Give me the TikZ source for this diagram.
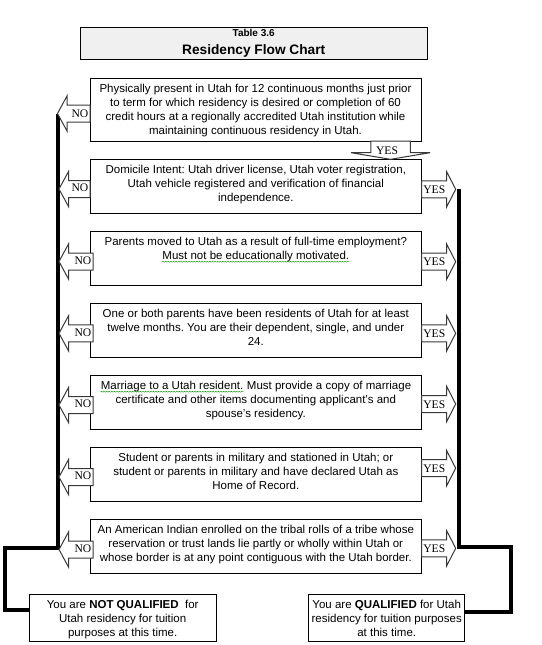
\documentclass[tikz,border=0pt]{standalone}
\usepackage{fontspec}
\setmainfont{Liberation Sans}
\newfontfamily\yesnofont{Liberation Serif}
\usepackage{tikz}
\usetikzlibrary{positioning,calc,decorations.pathmorphing}
\frenchspacing

% wavy proofing mark under a phrase
\newcommand{\squig}[1]{\tikz[baseline=(sq.base)]{\node[inner sep=0pt, anchor=base] (sq) {#1}; \draw[green!55!black, line width=0.4pt, decorate, decoration={snake, amplitude=0.5pt, segment length=2.6pt}] ([yshift=-2.3pt]sq.base west) -- ([yshift=-2.3pt]sq.base east);}}

\begin{document}
\begin{tikzpicture}[x=1pt, y=-1pt,
    titlebox/.style={rectangle, draw=black, line width=0.9pt, fill=gray!12, minimum width=347.7pt, minimum height=32pt, inner sep=0pt},
    box/.style={rectangle, draw=black, line width=0.8pt, fill=white, minimum width=331.7pt, minimum height=54pt, inner sep=0pt},
    endbox/.style={rectangle, draw=black, line width=0.8pt, fill=white, minimum height=47.7pt, inner sep=0pt},
    boxtext/.style={align=center, inner sep=0pt, font=\fontsize{11.5}{14}\selectfont},
    blockarrow/.style={draw=gray!45!black, line width=1pt, fill=white, line join=miter},
    yesno/.style={inner sep=0pt, font=\yesnofont\fontsize{11.6}{12}\selectfont},
    trunk/.style={black, line width=4pt}]

\useasboundingbox (0,0) rectangle (541,645);

% Title
\node[titlebox] (title) at (253.8,43.3) {};
\node[anchor=base, font=\bfseries\fontsize{10}{12}\selectfont] (tabno) at (253.7,36.7) {Table 3.6};
\node[anchor=base, font=\bfseries\fontsize{13.7}{16}\selectfont] (tabname) at (253.7,54.7) {Residency Flow Chart};

% Arrow tips and trunk bends
\coordinate (no1) at (57.5,113.5);
\coordinate (no2) at (59,189);
\coordinate (no3) at (59,261.5);
\coordinate (no4) at (59,333.3);
\coordinate (no5) at (59,405);
\coordinate (no6) at (59,477);
\coordinate (no7) at (59,549.5);
\coordinate (yes2) at (455.7,189.3);
\coordinate (yes3) at (455.7,261.7);
\coordinate (yes4) at (455.7,333.3);
\coordinate (yes5) at (455.7,404);
\coordinate (yes6) at (455.7,468.2);
\coordinate (yes7) at (455.7,548.3);
\coordinate (down) at (390.5,159.3);
\coordinate (lfoot) at (4.7,548.3);
\coordinate (rtop) at (459,189.3);
\coordinate (rfoot) at (511,547.3);

% Outcome boxes
\node[endbox, minimum width=186.7pt] (nq) at (122.7,617.9) {};
\node[endbox, minimum width=156pt] (q) at (386.7,617.9) {};
\node[boxtext, below=6.5pt of nq.north] (tnq) {You are \textbf{NOT QUALIFIED} ~for\\ Utah residency for tuition\\ purposes at this time.};
\node[boxtext, below=6.5pt of q.north] (tq) {You are \textbf{QUALIFIED} for Utah\\ residency for tuition purposes\\ at this time.};

% Trunk lines
\draw[trunk] (no1) -- (no1 |- lfoot) -- (lfoot) |- ($(nq.west)+(0,-8)$);
\draw[trunk] (rtop) -- (rtop |- rfoot) -- (rfoot) |- ($(q.east)+(0,-6)$);

% Criteria
\node[box, minimum height=62.7pt, minimum width=331pt] (b1) at (255.5,110) {};
\node[box] (b2) at (255.8,186.2) {};
\node[box] (b3) at (255.8,258.3) {};
\node[box] (b4) at (255.8,330.3) {};
\node[box] (b5) at (255.8,402.3) {};
\node[box] (b6) at (255.8,474.3) {};
\node[box] (b7) at (255.8,546.3) {};

\node[boxtext, below=6pt of b1.north] (t1) {Physically present in Utah for 12 continuous months just prior\\ to term for which residency is desired or completion of 60\\ credit hours at a regionally accredited Utah institution while\\ maintaining continuous residency in Utah.};
\node[boxtext, below=6pt of b2.north] (t2) {Domicile Intent: Utah driver license, Utah voter registration,\\ Utah vehicle registered and verification of financial\\ independence.};
\node[boxtext, below=6pt of b3.north] (t3) {Parents moved to Utah as a result of full-time employment?\\ \squig{Must not be educationally motivated.}};
\node[boxtext, below=6pt of b4.north] (t4) {One or both parents have been residents of Utah for at least\\ twelve months. You are their dependent, single, and under\\ 24.};
\node[boxtext, below=6pt of b5.north] (t5) {\squig{Marriage to a Utah resident.} Must provide a copy of marriage\\ certificate and other items documenting applicant’s and\\ spouse’s residency.};
\node[boxtext, below=6pt of b6.north] (t6) {Student or parents in military and stationed in Utah; or\\ student or parents in military and have declared Utah as\\ Home of Record.};
\node[boxtext, below=6pt of b7.north] (t7) {An American Indian enrolled on the tribal rolls of a tribe whose\\ reservation or trust lands lie partly or wholly within Utah or\\ whose border is at any point contiguous with the Utah border.};

% NO arrows
\draw[blockarrow] (no1) -- ++(9.5,-17.5) -- ++(0,9) -- ++(23,0) -- ++(0,17) -- ++(-23,0) -- ++(0,9) -- cycle;
\draw[blockarrow] (no2) -- ++(9.5,-17.5) -- ++(0,9) -- ++(21.5,0) -- ++(0,17) -- ++(-21.5,0) -- ++(0,9) -- cycle;
\draw[blockarrow] (no3) -- ++(9.5,-17.5) -- ++(0,9) -- ++(24.5,0) -- ++(0,17) -- ++(-24.5,0) -- ++(0,9) -- cycle;
\draw[blockarrow] (no4) -- ++(9.5,-17.5) -- ++(0,9) -- ++(24.5,0) -- ++(0,17) -- ++(-24.5,0) -- ++(0,9) -- cycle;
\draw[blockarrow] (no5) -- ++(9.5,-17.5) -- ++(0,9) -- ++(24.5,0) -- ++(0,17) -- ++(-24.5,0) -- ++(0,9) -- cycle;
\draw[blockarrow] (no6) -- ++(9.5,-17.5) -- ++(0,9) -- ++(24.5,0) -- ++(0,17) -- ++(-24.5,0) -- ++(0,9) -- cycle;
\draw[blockarrow] (no7) -- ++(9.5,-17.5) -- ++(0,9) -- ++(24.5,0) -- ++(0,17) -- ++(-24.5,0) -- ++(0,9) -- cycle;

% YES arrows
\draw[blockarrow] (down) -- ++(39.5,-6.6) -- ++(-19.75,0) -- ++(0,-11.7) -- ++(-39.5,0) -- ++(0,11.7) -- ++(-19.75,0) -- cycle;
\draw[blockarrow] (yes2) -- ++(-9,-17.5) -- ++(0,9) -- ++(-25,0) -- ++(0,17) -- ++(25,0) -- ++(0,9) -- cycle;
\draw[blockarrow] (yes3) -- ++(-9,-17.5) -- ++(0,9) -- ++(-25,0) -- ++(0,17) -- ++(25,0) -- ++(0,9) -- cycle;
\draw[blockarrow] (yes4) -- ++(-9,-17.5) -- ++(0,9) -- ++(-25,0) -- ++(0,17) -- ++(25,0) -- ++(0,9) -- cycle;
\draw[blockarrow] (yes5) -- ++(-9,-17.5) -- ++(0,9) -- ++(-25,0) -- ++(0,17) -- ++(25,0) -- ++(0,9) -- cycle;
\draw[blockarrow] (yes6) -- ++(-9,-17.5) -- ++(0,9) -- ++(-25,0) -- ++(0,17) -- ++(25,0) -- ++(0,9) -- cycle;
\draw[blockarrow] (yes7) -- ++(-9,-17.5) -- ++(0,9) -- ++(-25,0) -- ++(0,17) -- ++(25,0) -- ++(0,9) -- cycle;

% Arrow labels
\node[yesno] (nol1) at (80,114) {NO};
\node[yesno] (nol2) at (80,187.5) {NO};
\node[yesno] (nol3) at (83,260.5) {NO};
\node[yesno] (nol4) at (83,332.5) {NO};
\node[yesno] (nol5) at (83,404) {NO};
\node[yesno] (nol6) at (83,476) {NO};
\node[yesno] (nol7) at (83,549) {NO};
\node[yesno] (yesdown) at (387,151) {YES};
\node[yesno] (yesl2) at (434.3,190) {YES};
\node[yesno] (yesl3) at (434.3,262) {YES};
\node[yesno] (yesl4) at (434.3,333.3) {YES};
\node[yesno] (yesl5) at (434.3,405) {YES};
\node[yesno] (yesl6) at (434.3,469) {YES};
\node[yesno] (yesl7) at (434.3,549) {YES};

\end{tikzpicture}
\end{document}
